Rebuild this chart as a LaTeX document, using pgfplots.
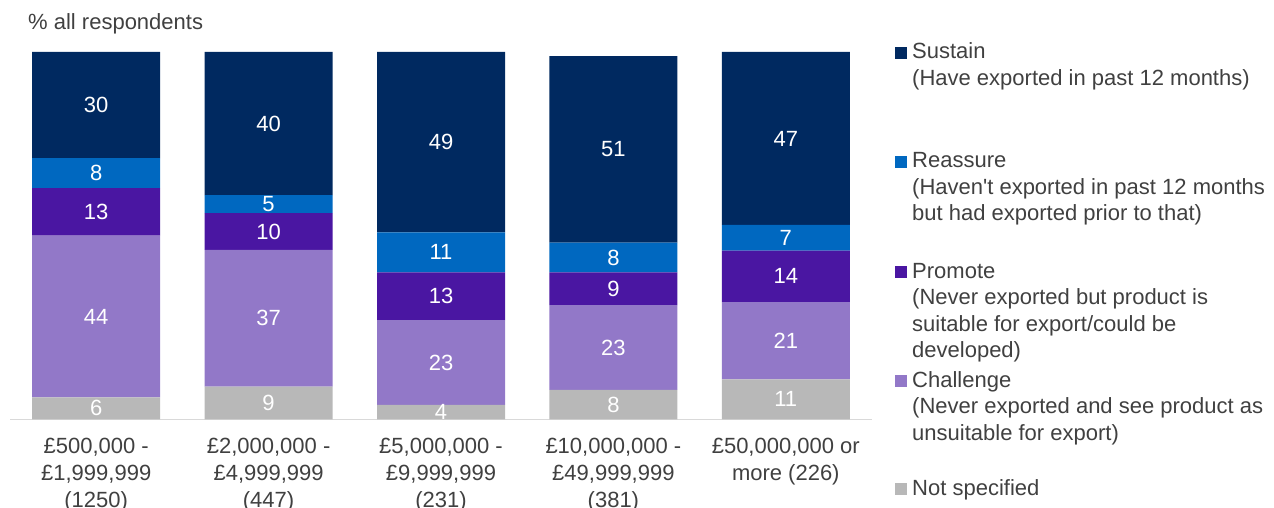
\documentclass[border=0pt]{standalone}
\usepackage{fontspec}
\setmainfont{Liberation Sans}
\usepackage{pgfplots}
\usepackage{pgfplotstable}
\pgfplotsset{compat=1.18}
\definecolor{su}{HTML}{002960}
\definecolor{re}{HTML}{0068C0}
\definecolor{pr}{HTML}{4A16A2}
\definecolor{ch}{HTML}{9278C8}
\definecolor{ns}{HTML}{B8B8B8}
\definecolor{txt}{HTML}{404040}
\definecolor{axl}{HTML}{D9D9D9}
% heights as drawn, and printed labels
\pgfplotstableread{
x ns ch pr re su nsl chl prl rel sul
0 6.0 44.0 12.9 8.2 28.9 6 44 13 8 30
1 8.9 37.2 10.0 4.9 39.0 9 37 10 5 40
2 3.9 23.1 13.0 10.9 49.1 4 23 13 11 49
3 8.0 23.1 8.9 8.1 50.8 8 23 9 8 51
4 10.9 21.0 14.0 7.0 47.1 11 21 14 7 47
}\data
\pgfplotsset{seg/.style={fill=#1, draw=none, point meta=\thisrow{#1l}}}
\newcommand{\legtext}[1]{\begin{tabular}[t]{@{}l@{}}#1\end{tabular}}
\begin{document}
\begin{tikzpicture}[font=\fontsize{22pt}{26.5pt}\selectfont, text=txt]
\path[use as bounding box] (0,0) rectangle (1274pt,507pt);
\begin{axis}[
  at={(10pt,87.7pt)}, anchor=south west,
  scale only axis,
  width=862pt, height=385.7pt,
  xmin=-0.5, xmax=4.5, ymin=0, ymax=105,
  ybar stacked, bar width=0.7425,
  axis x line=bottom, axis y line=none,
  x axis line style={draw=axl, line width=1pt, -},
  xtick=data, major tick length=0pt,
  xticklabels={{£500,000 -\\£1,999,999\\(1250)},{£2,000,000 -\\£4,999,999\\(447)},{£5,000,000 -\\£9,999,999\\(231)},{£10,000,000 -\\£49,999,999\\(381)},{£50,000,000 or\\more (226)}},
  xticklabel style={align=center, anchor=north, inner sep=0pt, yshift=-19pt, text=txt, font=\fontsize{22pt}{27pt}\selectfont},
  /pgf/number format/assume math mode=true,
  nodes near coords,
  every node near coord/.append style={text=white, anchor=center, font=\fontsize{22pt}{26.5pt}\selectfont},
  clip=false,
]
\addplot[seg=ns] table[x=x,y=ns]{\data};
\addplot[seg=ch] table[x=x,y=ch]{\data};
\addplot[seg=pr] table[x=x,y=pr]{\data};
\addplot[seg=re] table[x=x,y=re]{\data};
\addplot[seg=su] table[x=x,y=su]{\data};
\end{axis}
\node[anchor=base west, inner sep=0pt] at (28pt,477pt) {\% all respondents};
% legend
\fill[su] (895pt,448pt) rectangle ++(12pt,12pt);
\node[anchor=base west, inner sep=0pt] at (912pt,448pt) {\legtext{Sustain\\(Have exported in past 12 months)}};
\fill[re] (895pt,339pt) rectangle ++(12pt,12pt);
\node[anchor=base west, inner sep=0pt] at (912pt,339pt) {\legtext{Reassure\\(Haven\textquotesingle t exported in past 12 months\\but had exported prior to that)}};
\fill[pr] (895pt,229pt) rectangle ++(12pt,12pt);
\node[anchor=base west, inner sep=0pt] at (912pt,229pt) {\legtext{Promote\\(Never exported but product is\\suitable for export/could be\\developed)}};
\fill[ch] (895pt,120pt) rectangle ++(12pt,12pt);
\node[anchor=base west, inner sep=0pt] at (912pt,120pt) {\legtext{Challenge\\(Never exported and see product as\\unsuitable for export)}};
\fill[ns] (895pt,12pt) rectangle ++(12pt,12pt);
\node[anchor=base west, inner sep=0pt] at (912pt,12pt) {\legtext{Not specified}};
\end{tikzpicture}
\end{document}
